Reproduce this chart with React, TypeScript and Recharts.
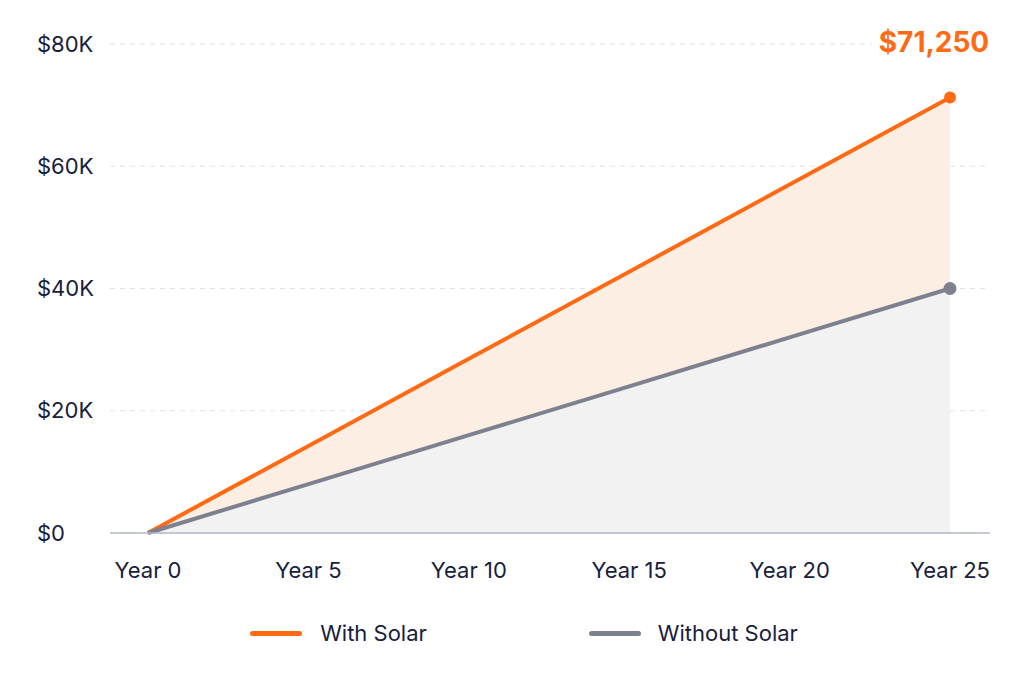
import React from 'react';
import {
  ComposedChart, Area, XAxis, YAxis, CartesianGrid, Legend, LabelList,
} from 'recharts';

const YEARS = ['Year 0', 'Year 5', 'Year 10', 'Year 15', 'Year 20', 'Year 25'];
const WITH_SOLAR = [0, 14250, 28500, 42750, 57000, 71250];
const WITHOUT_SOLAR = [0, 8000, 16000, 24000, 32000, 40000];
const Y_TICKS = [0, 20000, 40000, 60000, 80000];

const ORANGE = '#ff6a14';
const GREY = '#7c818d';
const INK = '#17203d';
const FONT = "Inter, 'Noto Sans', sans-serif";
const TOP = 44;

const data = YEARS.map((year, i) => ({
  year,
  withSolar: WITH_SOLAR[i],
  withoutSolar: WITHOUT_SOLAR[i],
}));

const fmtK = (v: number) => (v === 0 ? '$0' : `$${v / 1000}K`);

const YTick = ({ y, payload }: any) => (
  <text x={37} y={y} dy="0.35em" textAnchor="start" fill={INK} fontSize={22} fontFamily={FONT}>
    {fmtK(payload.value)}
  </text>
);

const XTick = ({ x, y, payload }: any) => (
  <text x={x} y={y + 35} dy="0.35em" textAnchor="middle" fill={INK} fontSize={22} fontFamily={FONT}>
    {payload.value}
  </text>
);

const endDot = (color: string, r: number) => (props: any) => {
  const { cx, cy, index } = props;
  if (index !== data.length - 1) return <g key={`d${index}`} />;
  return <circle key={`d${index}`} cx={cx} cy={cy} r={r} fill={color} stroke="none" />;
};

const EndLabel = (props: any) => {
  const { x, index, value } = props;
  if (index !== data.length - 1) return null;
  const cx = x - 16;
  return (
    <g>
      <rect x={cx - 62} y={TOP - 20} width={124} height={36} fill="#ffffff" />
      <text x={cx} y={TOP - 2} dy="0.35em" textAnchor="middle" fill={ORANGE}
        fontSize={28} fontWeight={700} fontFamily={FONT}>
        {`$${Number(value).toLocaleString('en-US')}`}
      </text>
    </g>
  );
};

const LegendContent = () => (
  <div style={{ display: 'flex', justifyContent: 'center', alignItems: 'center', height: 40, paddingLeft: 24, fontFamily: FONT, fontSize: 22, color: INK }}>
    <span style={{ display: 'inline-block', width: 52, height: 5, borderRadius: 3, background: ORANGE, marginRight: 18 }} />
    <span style={{ marginRight: 162 }}>With Solar</span>
    <span style={{ display: 'inline-block', width: 52, height: 5, borderRadius: 3, background: GREY, marginRight: 17 }} />
    <span>Without Solar</span>
  </div>
);

export default function App() {
  return (
    <div style={{ position: 'absolute', left: 0, top: 0, width: 1024, height: 679, background: '#fff' }}>
      <ComposedChart width={1024} height={679} data={data}
        margin={{ top: TOP, right: 34, left: 0, bottom: 26 }}>
        <CartesianGrid vertical={false} stroke="#dfe2ea" strokeDasharray="5 5" />
        <XAxis dataKey="year" height={80} axisLine={{ stroke: '#b2b7c4', strokeWidth: 1.5 }}
          tickLine={false} tickSize={0} tick={<XTick />} padding={{ left: 38, right: 40 }} />
        <YAxis width={110} domain={[0, 80000]} ticks={Y_TICKS} axisLine={false}
          tickLine={false} tick={<YTick />} />
        <Legend verticalAlign="bottom" height={40} content={<LegendContent />}
          wrapperStyle={{ left: 0, width: 1024 }} />
        <Area type="linear" dataKey="withSolar" name="With Solar" stroke={ORANGE} strokeWidth={4}
          fill="#fdeee4" fillOpacity={1} dot={endDot(ORANGE, 6)} activeDot={false}
          isAnimationActive={false}>
          <LabelList dataKey="withSolar" content={<EndLabel />} />
        </Area>
        <Area type="linear" dataKey="withoutSolar" name="Without Solar" stroke={GREY} strokeWidth={4}
          fill="#f2f2f3" fillOpacity={1} dot={endDot(GREY, 6.5)} activeDot={false}
          isAnimationActive={false} />
      </ComposedChart>
    </div>
  );
}
